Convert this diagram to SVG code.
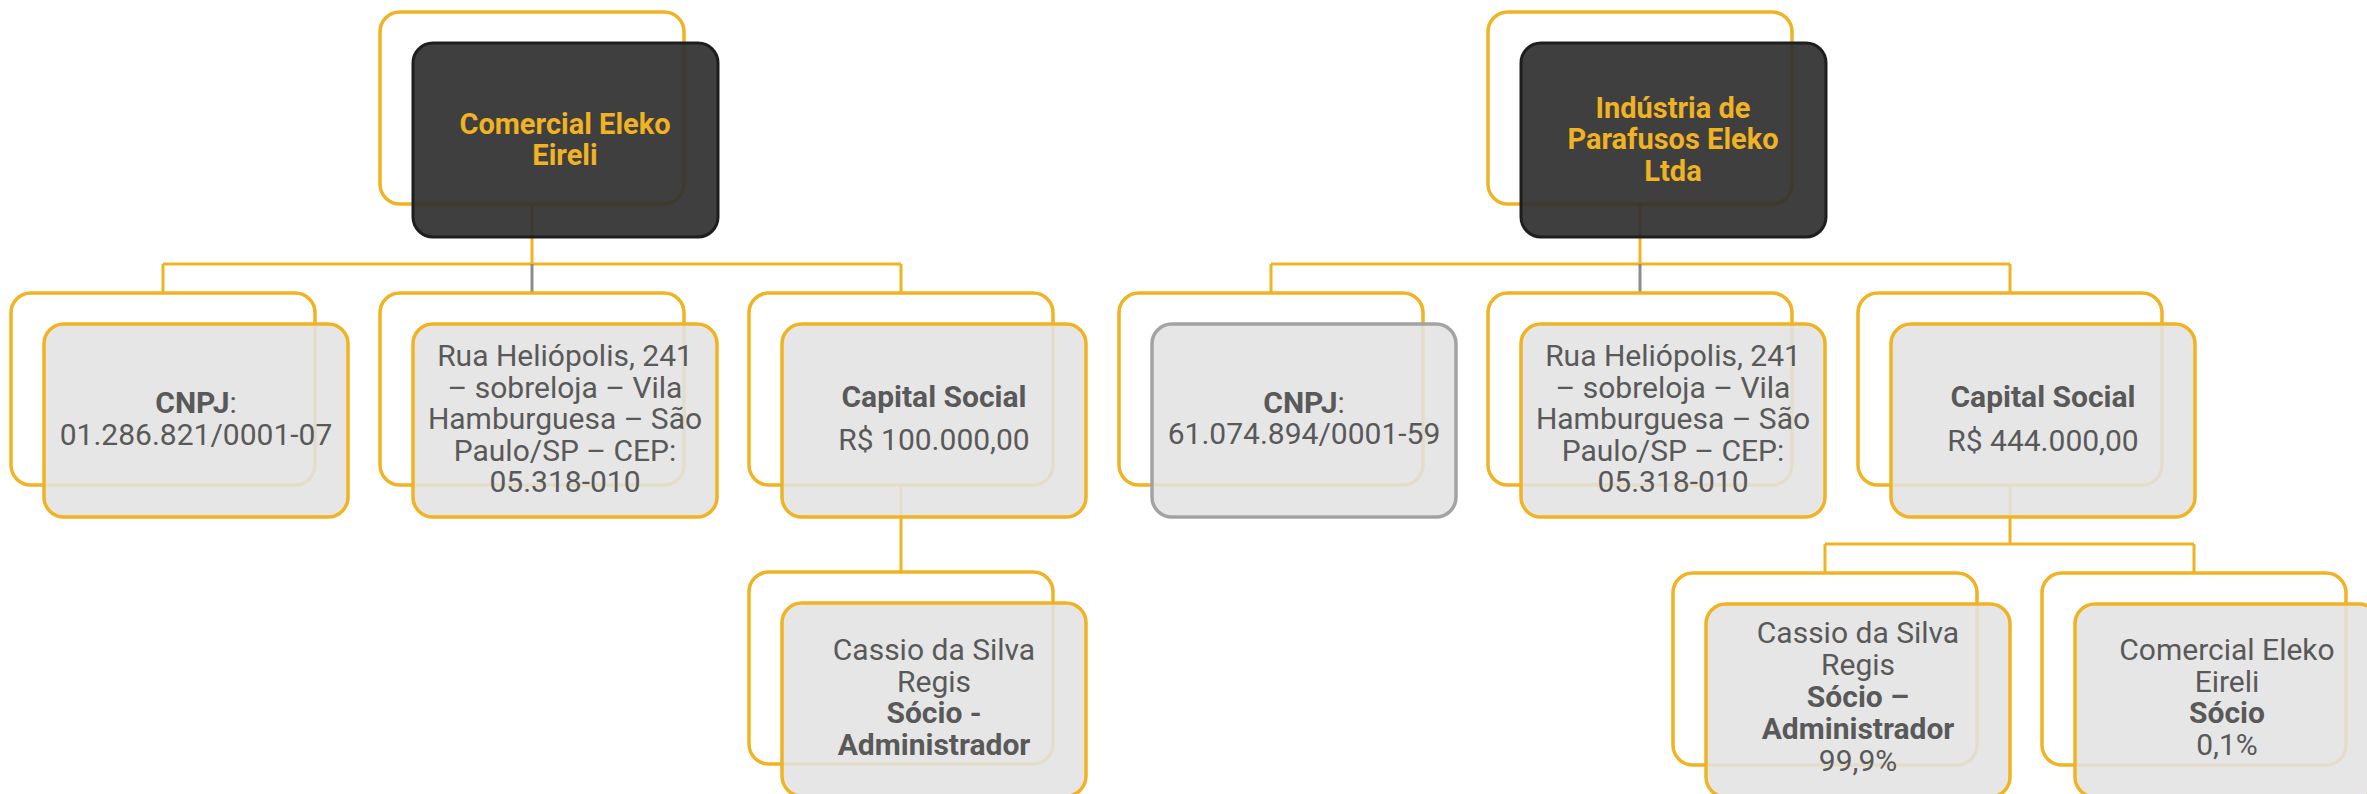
<svg xmlns="http://www.w3.org/2000/svg" width="2367" height="794" viewBox="0 0 2367 794">
<style>
.frame{fill:none;stroke:#F0B323;stroke-width:3.5}
.box{fill:#E3E3E3;fill-opacity:0.88;stroke:#F0B323;stroke-width:3.5}
.boxg{fill:#E3E3E3;fill-opacity:0.88;stroke:#A3A3A3;stroke-width:3.5}
.dark{fill:#303030;fill-opacity:0.93;stroke:#1E1E1E;stroke-width:3}
.conn{fill:none;stroke:#F0B323;stroke-width:3}
.conng{fill:none;stroke:#8C8C8C;stroke-width:3}
.t{font-family:Roboto,"Liberation Sans",sans-serif;font-size:30px;fill:#595959;text-anchor:middle}
.b{font-weight:bold}
.title{font-family:Roboto,"Liberation Sans",sans-serif;font-size:29px;font-weight:bold;fill:#F0B323;text-anchor:middle}
</style>
<rect width="2367" height="794" fill="#FFFFFF"/>
<g id="connectors">
<path class="conn" d="M532,204V264M163,264H901M163,264V293M901,264V293"/>
<path class="conng" d="M532,264V293"/>
<path class="conn" d="M901,485V572"/>
<path class="conn" d="M1640,204V264M1271,264H2010M1271,264V293M2010,264V293"/>
<path class="conng" d="M1640,264V293"/>
<path class="conn" d="M2010,485V544M1825,544H2194M1825,544V573M2194,544V573"/>
</g>
<g id="n-comercial">
<rect class="frame" x="380" y="12" width="304" height="192" rx="20"/>
<rect class="dark" x="413" y="43" width="305" height="194" rx="20"/>
<text class="title" x="565" y="134">Comercial Eleko</text>
<text class="title" x="565" y="165">Eireli</text>
</g>
<g id="n-cnpj1">
<rect class="frame" x="11" y="293" width="304" height="192" rx="20"/>
<rect class="box" x="44" y="324" width="304" height="193" rx="20"/>
<text class="t" x="196" y="413"><tspan class="b">CNPJ</tspan>:</text>
<text class="t" x="196" y="445">01.286.821/0001-07</text>
</g>
<g id="n-end1">
<rect class="frame" x="380" y="293" width="304" height="192" rx="20"/>
<rect class="box" x="413" y="324" width="304" height="193" rx="20"/>
<text class="t" x="565" y="366">Rua Heliópolis, 241</text>
<text class="t" x="565" y="397.5">– sobreloja – Vila</text>
<text class="t" x="565" y="429">Hamburguesa – São</text>
<text class="t" x="565" y="460.5">Paulo/SP – CEP:</text>
<text class="t" x="565" y="492">05.318-010</text>
</g>
<g id="n-cap1">
<rect class="frame" x="749" y="293" width="304" height="192" rx="20"/>
<rect class="box" x="782" y="324" width="304" height="193" rx="20"/>
<text class="t b" x="934" y="407">Capital Social</text>
<text class="t" x="934" y="450">R$ 100.000,00</text>
</g>
<g id="n-socio1">
<rect class="frame" x="749" y="572" width="304" height="192" rx="20"/>
<rect class="box" x="782" y="603" width="304" height="193" rx="20"/>
<text class="t" x="934" y="660">Cassio da Silva</text>
<text class="t" x="934" y="692">Regis</text>
<text class="t b" x="934" y="723">Sócio -</text>
<text class="t b" x="934" y="755">Administrador</text>
</g>
<g id="n-industria">
<rect class="frame" x="1488" y="12" width="304" height="192" rx="20"/>
<rect class="dark" x="1521" y="43" width="305" height="194" rx="20"/>
<text class="title" x="1673" y="118">Indústria de</text>
<text class="title" x="1673" y="149">Parafusos Eleko</text>
<text class="title" x="1673" y="181">Ltda</text>
</g>
<g id="n-cnpj2">
<rect class="frame" x="1119" y="293" width="304" height="192" rx="20"/>
<rect class="boxg" x="1152" y="324" width="304" height="193" rx="20"/>
<text class="t" x="1304" y="413"><tspan class="b">CNPJ</tspan>:</text>
<text class="t" x="1304" y="444">61.074.894/0001-59</text>
</g>
<g id="n-end2">
<rect class="frame" x="1488" y="293" width="304" height="192" rx="20"/>
<rect class="box" x="1521" y="324" width="304" height="193" rx="20"/>
<text class="t" x="1673" y="366">Rua Heliópolis, 241</text>
<text class="t" x="1673" y="397.5">– sobreloja – Vila</text>
<text class="t" x="1673" y="429">Hamburguesa – São</text>
<text class="t" x="1673" y="460.5">Paulo/SP – CEP:</text>
<text class="t" x="1673" y="492">05.318-010</text>
</g>
<g id="n-cap2">
<rect class="frame" x="1858" y="293" width="304" height="192" rx="20"/>
<rect class="box" x="1891" y="324" width="304" height="193" rx="20"/>
<text class="t b" x="2043" y="407">Capital Social</text>
<text class="t" x="2043" y="451">R$ 444.000,00</text>
</g>
<g id="n-socio2">
<rect class="frame" x="1673" y="573" width="304" height="192" rx="20"/>
<rect class="box" x="1706" y="604" width="304" height="193" rx="20"/>
<text class="t" x="1858" y="643">Cassio da Silva</text>
<text class="t" x="1858" y="675">Regis</text>
<text class="t b" x="1858" y="707">Sócio –</text>
<text class="t b" x="1858" y="739">Administrador</text>
<text class="t" x="1858" y="771">99,9%</text>
</g>
<g id="n-socio3">
<rect class="frame" x="2042" y="573" width="304" height="192" rx="20"/>
<rect class="box" x="2075" y="604" width="304" height="193" rx="20"/>
<text class="t" x="2227" y="660">Comercial Eleko</text>
<text class="t" x="2227" y="692">Eireli</text>
<text class="t b" x="2227" y="723">Sócio</text>
<text class="t" x="2227" y="755">0,1%</text>
</g>
</svg>
